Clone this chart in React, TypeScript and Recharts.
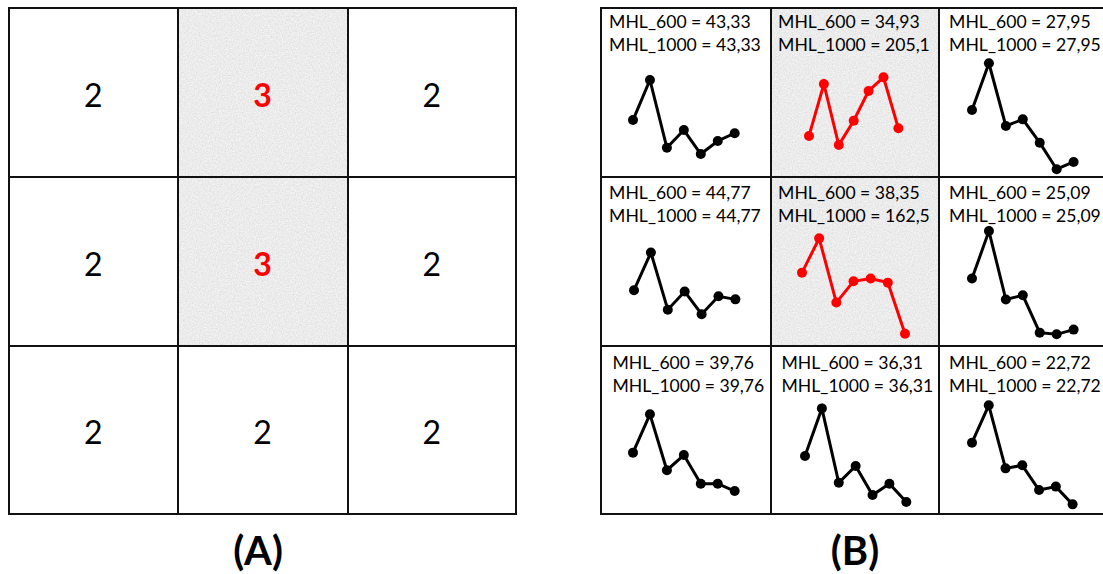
import React from "react";
import { LineChart, Line, XAxis, YAxis } from "recharts";

// x positions of the 7 points in every small chart
const steps = ["1", "2", "3", "4", "5", "6", "7"];

// panel (A): count per cell, row by row
const countsA = [2, 3, 2, 2, 3, 2, 2, 2, 2];

// panel (B): labels per cell, row by row
const mhl600 = ["43,33", "34,93", "27,95", "44,77", "38,35", "25,09", "39,76", "36,31", "22,72"];
const mhl1000 = ["43,33", "205,1", "27,95", "44,77", "162,5", "25,09", "39,76", "36,31", "22,72"];

// panel (B): curve values per cell (arbitrary units, 0..100)
const curve00 = [33.7, 57.4, 17.3, 27.8, 13.6, 21.3, 25.9];
const curve01 = [24.3, 55.0, 18.9, 33.3, 50.9, 59.0, 28.8];
const curve02 = [39.6, 67.3, 30.2, 34.1, 20.3, 4.6, 8.9];
const curve10 = [33.0, 55.3, 21.5, 32.2, 18.8, 29.4, 27.6];
const curve11 = [43.4, 63.7, 25.7, 38.3, 39.9, 37.5, 7.3];
const curve12 = [39.9, 68.0, 27.5, 30.0, 7.9, 6.9, 9.7];
const curve20 = [36.3, 59.0, 25.9, 34.9, 17.9, 17.9, 13.6];
const curve21 = [34.3, 62.5, 18.5, 28.4, 11.2, 17.9, 7.1];
const curve22 = [42.2, 64.3, 27.0, 28.8, 14.2, 16.2, 5.7];
const curves = [curve00, curve01, curve02, curve10, curve11, curve12, curve20, curve21, curve22];

// cells that stand out (same in both panels)
const flagged = [false, true, false, false, true, false, false, false, false];

/* ------------------------------------------------------------------ */

const ROWS = [7.5, 177, 346, 513.5];
const COLS_A = [9, 177.5, 347.5, 516];
const COLS_B = [600.5, 770.5, 938.5, 1108];
const PLOT_H = 169;
const RED = "#ff0000";
const FONT = "Lato, 'Open Sans', sans-serif";

// point span inside each cell of (B), from the cell's left edge
const spanX = [
  [32.6, 134.3], [38.6, 128], [33, 134.6],
  [33.6, 135], [31.6, 134.6], [33, 134.6],
  [32.6, 134.3], [34.3, 135.6], [33, 133.6],
];
const labelX = [8.6, 7.6, 10.6, 8.6, 7.6, 10.6, 12, 11, 10.6];
const labelTop = [9.5, 180.5, 351.2];

export default function App() {
  return (
    <div
      style={{
        position: "absolute",
        left: 0,
        top: 0,
        width: 1103,
        height: 574,
        overflow: "hidden",
        background: "#fff",
        fontFamily: FONT,
      }}
    >
      {countsA.map((n, i) => (
        <CellA key={"a" + i} index={i} value={n} />
      ))}
      {curves.map((c, i) => (
        <CellB key={"b" + i} index={i} values={c} />
      ))}
      <Grid cols={COLS_A} />
      <Grid cols={COLS_B} />
      <PanelLabel text="(A)" x={258} />
      <PanelLabel text="(B)" x={855} />
    </div>
  );
}

// light grey paper-like fill of the flagged cells
function Shade({ id, left, top, width, height }: { id: string; left: number; top: number; width: number; height: number }) {
  return (
    <svg width={width} height={height} style={{ position: "absolute", left, top }}>
      <filter id={id} x="0" y="0" width="100%" height="100%" colorInterpolationFilters="sRGB">
        <feTurbulence type="fractalNoise" baseFrequency="0.7" numOctaves={3} seed={4} />
        <feColorMatrix type="saturate" values="0" />
        <feComponentTransfer>
          <feFuncR type="linear" slope={0.18} intercept={0.835} />
          <feFuncG type="linear" slope={0.18} intercept={0.835} />
          <feFuncB type="linear" slope={0.18} intercept={0.835} />
          <feFuncA type="linear" slope={0} intercept={1} />
        </feComponentTransfer>
      </filter>
      <rect width={width} height={height} fill="#ececec" filter={`url(#${id})`} />
    </svg>
  );
}

function CellA({ index, value }: { index: number; value: number }) {
  const r = Math.floor(index / 3);
  const c = index % 3;
  const left = COLS_A[c];
  const w = COLS_A[c + 1] - left;
  const cy = (ROWS[r] + ROWS[r + 1]) / 2 + 3.5;
  const red = flagged[index];
  return (
    <>
      {red && <Shade id={"shA" + index} left={left} top={ROWS[r]} width={w} height={ROWS[r + 1] - ROWS[r]} />}
      <div
        style={{
          position: "absolute",
          left,
          width: w,
          top: cy - 16.8,
          fontSize: 32,
          lineHeight: "32px",
          textAlign: "center",
          color: red ? RED : "#000",
          fontWeight: red ? 700 : 400,
        }}
      >
        {value}
      </div>
    </>
  );
}

function CellB({ index, values }: { index: number; values: number[] }) {
  const r = Math.floor(index / 3);
  const c = index % 3;
  const left = COLS_B[c];
  const red = flagged[index];
  const color = red ? RED : "#000";
  const data = steps.map((s, i) => ({ step: s, v: values[i] }));
  const pad = 8;
  const [x0, x1] = spanX[index];
  return (
    <>
      {red && (
        <Shade
          id={"shB" + index}
          left={left}
          top={ROWS[r]}
          width={COLS_B[c + 1] - left}
          height={ROWS[r + 1] - ROWS[r]}
        />
      )}
      <div
        style={{
          position: "absolute",
          left: left + labelX[index],
          top: labelTop[r],
          fontSize: 17.6,
          lineHeight: "23px",
          color: "#000",
          whiteSpace: "nowrap",
        }}
      >
        <div>MHL_600 = {mhl600[index]}</div>
        <div>MHL_1000 = {mhl1000[index]}</div>
      </div>
      <div style={{ position: "absolute", left: left + x0 - pad, top: ROWS[r + 1] - PLOT_H }}>
        <LineChart
          width={x1 - x0 + 2 * pad}
          height={PLOT_H}
          data={data}
          margin={{ top: 0, right: pad, bottom: 0, left: pad }}
        >
          <XAxis dataKey="step" hide />
          <YAxis hide domain={[0, 100]} />
          <Line
            type="linear"
            dataKey="v"
            stroke={color}
            strokeWidth={3}
            dot={{ r: 5, fill: color, stroke: color, strokeWidth: 0 }}
            activeDot={false}
            isAnimationActive={false}
          />
        </LineChart>
      </div>
    </>
  );
}

function Grid({ cols }: { cols: number[] }) {
  const top = ROWS[0];
  const bottom = ROWS[3];
  return (
    <>
      {cols.map((x, i) => (
        <div
          key={"v" + i}
          style={{ position: "absolute", left: x - 1, top: top - 1, width: 2, height: bottom - top + 2, background: "#111" }}
        />
      ))}
      {ROWS.map((y, i) => (
        <div
          key={"h" + i}
          style={{ position: "absolute", left: cols[0] - 1, top: y - 1, width: cols[3] - cols[0] + 2, height: 2, background: "#111" }}
        />
      ))}
    </>
  );
}

function PanelLabel({ text, x }: { text: string; x: number }) {
  return (
    <div
      style={{
        position: "absolute",
        left: x - 60,
        width: 120,
        top: 529.5,
        fontSize: 40,
        lineHeight: "40px",
        fontWeight: 700,
        textAlign: "center",
      }}
    >
      {text}
    </div>
  );
}
